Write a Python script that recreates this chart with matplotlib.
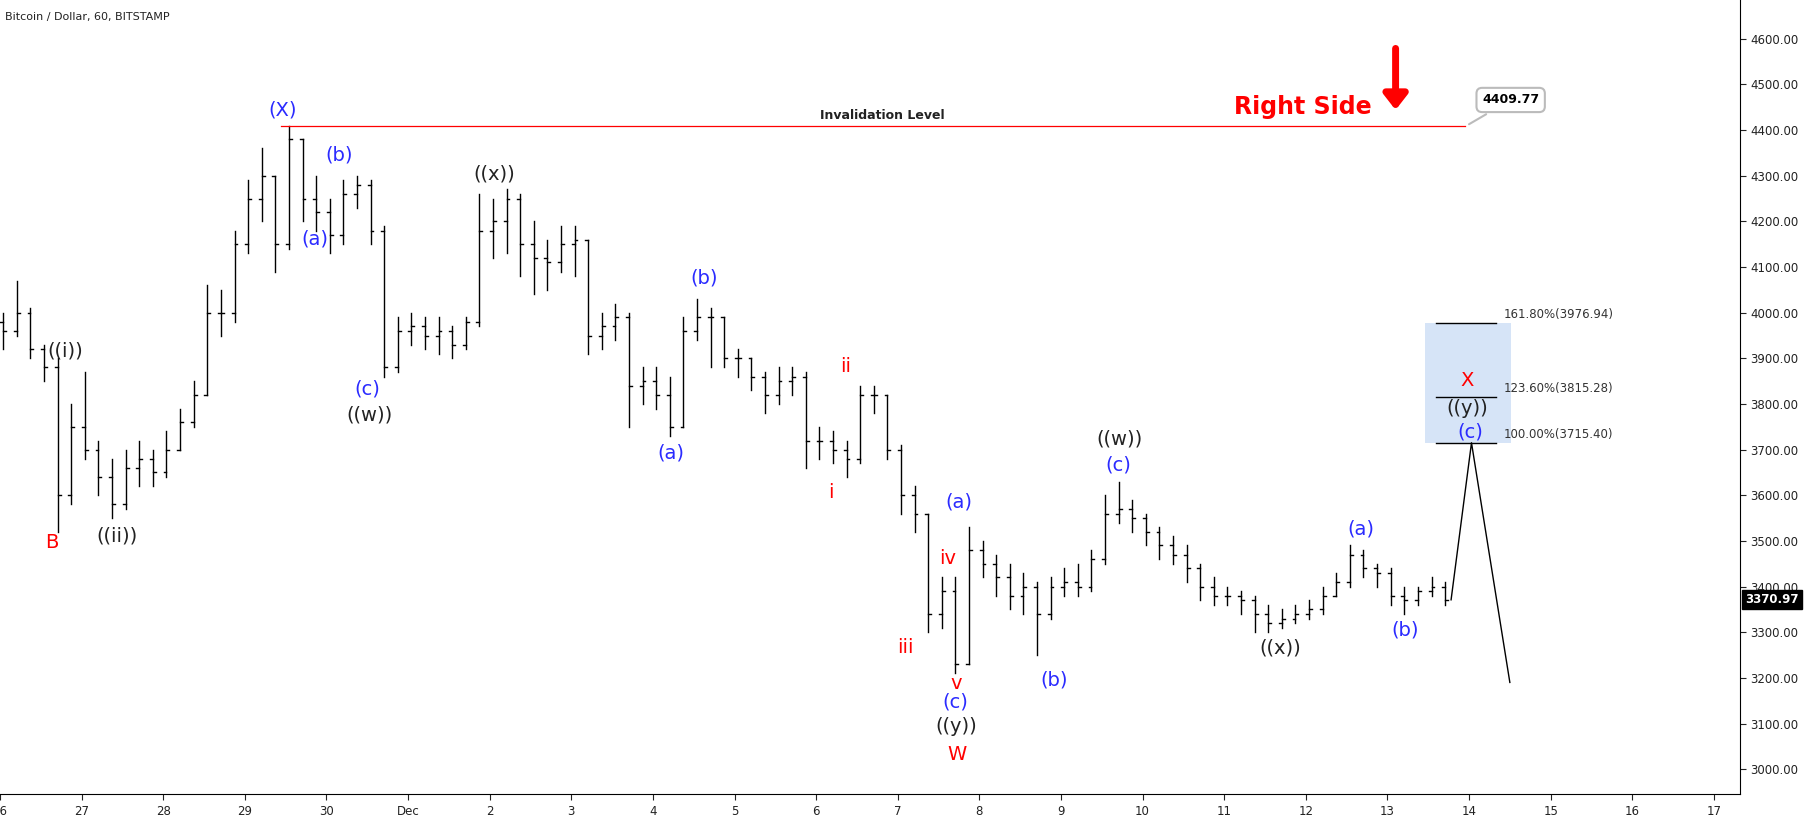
import matplotlib
matplotlib.use("Agg")
import matplotlib.pyplot as plt
import numpy as np
from matplotlib.patches import Rectangle

# 4-hour bars starting Nov 26 00:00 (day 0)
close = [3960,4000,3920,3880,3600,3750,
         3700,3640,3580,3660,3680,3650,
         3700,3760,3820,4000,4000,4150,
         4250,4300,4150,4380,4250,4220,
         4170,4260,4280,4180,3880,3960,
         3970,3950,3960,3930,3980,4180,
         4200,4250,4150,4120,4110,4150,
         4160,3950,3970,3990,3840,3850,
         3820,3750,3960,3990,3990,3900,
         3900,3860,3820,3850,3860,3720,
         3720,3700,3680,3820,3820,3700,
         3600,3560,3340,3390,3230,3480,
         3450,3420,3380,3400,3340,3400,
         3410,3400,3460,3560,3570,3550,
         3520,3490,3470,3440,3400,3380,
         3380,3370,3340,3320,3330,3340,
         3350,3380,3410,3470,3440,3430,
         3380,3370,3390,3400,3371]
high = [4000,4070,4010,3930,3900,3800,
        3870,3720,3680,3700,3720,3700,
        3740,3790,3850,4060,4050,4180,
        4290,4360,4300,4410,4380,4300,
        4250,4290,4300,4290,4190,3990,
        4000,3990,3990,3970,3990,4260,
        4250,4270,4260,4200,4160,4190,
        4190,4160,4000,4020,4000,3880,
        3880,3860,3990,4030,4010,3990,
        3920,3900,3870,3880,3880,3870,
        3750,3740,3720,3840,3840,3820,
        3710,3620,3560,3420,3420,3530,
        3500,3470,3450,3430,3410,3420,
        3440,3450,3480,3600,3630,3590,
        3560,3530,3510,3490,3450,3420,
        3400,3390,3380,3360,3350,3360,
        3370,3400,3430,3490,3480,3450,
        3440,3400,3400,3420,3410]
low = [3920,3950,3900,3850,3520,3580,
       3680,3600,3550,3570,3620,3620,
       3640,3700,3750,3820,3950,3980,
       4130,4200,4090,4140,4200,4180,
       4130,4150,4230,4150,3860,3870,
       3930,3920,3910,3900,3920,3970,
       4120,4130,4080,4040,4050,4090,
       4080,3910,3920,3940,3750,3800,
       3790,3730,3750,3940,3880,3880,
       3860,3830,3780,3800,3820,3660,
       3680,3670,3640,3670,3780,3680,
       3560,3520,3300,3310,3210,3230,
       3420,3380,3350,3340,3250,3330,
       3380,3380,3390,3450,3540,3520,
       3490,3460,3450,3410,3370,3360,
       3360,3340,3300,3300,3310,3320,
       3330,3340,3380,3400,3420,3400,
       3360,3340,3360,3380,3360]
open_first = 3980

day_labels = ["26","27","28","29","30","Dec","2","3","4","5","6","7","8","9","10","11","12","13","14","15","16","17"]
price_ticks = [3000,3100,3200,3300,3400,3500,3600,3700,3800,3900,4000,4100,4200,4300,4400,4500,4600]

fib_levels = [3976.94, 3815.28, 3715.40]
fib_names = ["161.80%", "123.60%", "100.00%"]
invalidation = 4409.77
last_price = 3370.97
proj_x = [17.78, 18.03, 18.5]
proj_y = [3371, 3715, 3190]

BLUE = "#2b2bff"
labels = [  # text, day, price, color
    ("(X)",3.46,4443,BLUE),("(b)",4.15,4346,BLUE),("(a)",3.86,4161,BLUE),
    ("(c)",4.50,3832,BLUE),("((w))",4.53,3776,"#222"),("((i))",0.80,3915,"#222"),
    ("((ii))",1.43,3510,"#222"),("B",0.63,3497,"red"),("((x))",6.06,4303,"#222"),
    ("(b)",8.63,4075,BLUE),("(a)",8.22,3692,BLUE),("ii",10.36,3882,"red"),
    ("i",10.18,3606,"red"),("(a)",11.75,3586,BLUE),("iv",11.61,3462,"red"),
    ("iii",11.09,3266,"red"),("v",11.71,3188,"red"),("(c)",11.71,3147,BLUE),
    ("((y))",11.72,3094,"#222"),("W",11.72,3033,"red"),("(b)",12.92,3195,BLUE),
    ("((w))",13.72,3723,"#222"),("(c)",13.70,3667,BLUE),("((x))",15.69,3266,"#222"),
    ("(a)",16.68,3527,BLUE),("(b)",17.22,3304,BLUE),("X",17.98,3852,"red"),
    ("((y))",17.98,3791,"#222"),("(c)",18.01,3738,BLUE),
]

fig = plt.figure(figsize=(18.14, 8.18), dpi=100)
ax = fig.add_axes([0.0, 0.029, 1740/1814, 0.971])
ax.set_xlim(0, 21.32)
ax.set_ylim(2945, 4685)

n = len(close)
t = np.arange(n) / 6 + 0.04
opens = [open_first] + close[:-1]
w = 0.035
for i in range(n):
    ax.plot([t[i], t[i]], [low[i], high[i]], color="black", lw=1)
    ax.plot([t[i]-w, t[i]], [opens[i], opens[i]], color="black", lw=1)
    ax.plot([t[i], t[i]+w], [close[i], close[i]], color="black", lw=1)

ax.plot(proj_x, proj_y, color="black", lw=1)

ax.plot([3.44, 17.95], [invalidation, invalidation], color="red", lw=0.9)
ax.text(10.81, invalidation+8, "Invalidation Level", fontsize=9, fontweight="bold", ha="center", va="bottom", color="#222")
ax.text(15.96, 4450, "Right Side", fontsize=17, fontweight="bold", color="red", ha="center", va="center")
ax.annotate("", xy=(17.1, 4438), xytext=(17.1, 4585),
            arrowprops=dict(arrowstyle="-|>,head_width=0.7,head_length=0.9", color="red", lw=5))
ax.annotate("4409.77", xy=(17.97, invalidation), xytext=(18.51, 4466), fontsize=9, fontweight="bold",
            ha="center", va="center",
            bbox=dict(boxstyle="round,pad=0.45", fc="white", ec="#bbbbbb", lw=1.5),
            arrowprops=dict(arrowstyle="-", color="#bbbbbb", lw=1.5))

ax.add_patch(Rectangle((17.46, fib_levels[2]), 1.05, fib_levels[0]-fib_levels[2], fc="#d6e4f7", ec="none", zorder=0))
for lv, nm in zip(fib_levels, fib_names):
    ax.plot([17.6, 18.33], [lv, lv], color="black", lw=1)
    ax.text(18.42, lv+18, f"{nm}({lv:.2f})", fontsize=8.5, color="#333", va="center", ha="left")

for txt, x, y, c in labels:
    ax.text(x, y, txt, color=c, fontsize=14, ha="center", va="center")

ax.text(0.003, 0.985, "Bitcoin / Dollar, 60, BITSTAMP", transform=ax.transAxes, fontsize=8, va="top", ha="left", color="#222")

ax.yaxis.tick_right()
ax.set_yticks(price_ticks)
ax.set_yticklabels([f"{p:.2f}" for p in price_ticks], fontsize=8.5)
ax.set_xticks(range(len(day_labels)))
ax.set_xticklabels(day_labels, fontsize=8.5)
ax.tick_params(length=4, colors="#222")
for s in ["top", "left"]:
    ax.spines[s].set_visible(False)
ax.text(1.003, last_price, "3370.97", transform=ax.get_yaxis_transform(), fontsize=8.5, fontweight="bold",
        color="white", va="center", ha="left", bbox=dict(boxstyle="square,pad=0.25", fc="black", ec="black"))

fig.savefig("out.png", dpi=100)
